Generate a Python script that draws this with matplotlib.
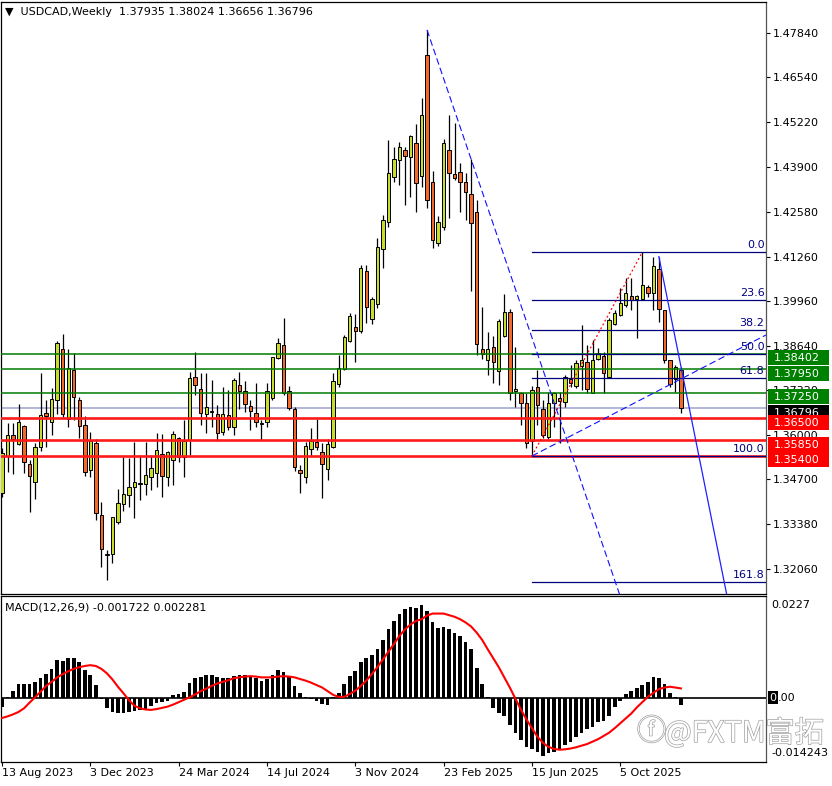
import matplotlib
matplotlib.use('Agg')
import matplotlib.pyplot as plt
import matplotlib.patches as mpatches
import matplotlib.transforms as mtrans
import matplotlib.patheffects as pe
import numpy as np
import pandas as pd

plt.rcParams['font.family'] = ['DejaVu Sans']

# ---------------- data ----------------
start_date = '2023-08-13'
opens = [1.3429, 1.3539, 1.3600, 1.3574, 1.3627, 1.3515, 1.3464, 1.3565, 1.3666, 1.3638,
         1.3704, 1.3853, 1.3648, 1.3792, 1.3704, 1.3629, 1.3498, 1.3577, 1.3366, 1.3249,
         1.3250, 1.3345, 1.3398, 1.3424, 1.3449, 1.3460, 1.3457, 1.3476, 1.3488, 1.3544,
         1.3476, 1.3527, 1.3593, 1.3537, 1.3586, 1.3771, 1.3735, 1.3663, 1.3670, 1.3662,
         1.3609, 1.3659, 1.3625, 1.3748, 1.3730, 1.3686, 1.3665, 1.3637, 1.3640, 1.3709,
         1.3827, 1.3866, 1.3730, 1.3677, 1.3497, 1.3478, 1.3559, 1.3581, 1.3552, 1.3501,
         1.3565, 1.3750, 1.3794, 1.3878, 1.3918, 1.3907, 1.4084, 1.3942, 1.3986, 1.4147,
         1.4229, 1.4361, 1.4410, 1.4440, 1.4418, 1.4461, 1.4364, 1.4719, 1.4346, 1.4167,
         1.4214, 1.4440, 1.4369, 1.4376, 1.4346, 1.4309, 1.4257, 1.3853, 1.3822, 1.3861,
         1.3790, 1.3892, 1.3962, 1.3731, 1.3725, 1.3695, 1.3584, 1.3742, 1.3677, 1.3596,
         1.3696, 1.3711, 1.3699, 1.3765, 1.3745, 1.3804, 1.3817, 1.3725, 1.3824, 1.3833,
         1.3773, 1.3928, 1.3954, 1.3984, 1.4010, 1.4002, 1.4000, 1.4036, 1.4018, 1.4089,
         1.3969, 1.3822, 1.3765, 1.37935]
highs = [1.3563, 1.3636, 1.3636, 1.3692, 1.3630, 1.3527, 1.3577, 1.3783, 1.3704, 1.3739,
         1.3878, 1.3898, 1.3853, 1.3841, 1.3714, 1.3657, 1.3611, 1.3588, 1.3405, 1.3262,
         1.3361, 1.3441, 1.3537, 1.3532, 1.3581, 1.3542, 1.3581, 1.3542, 1.3606, 1.3604,
         1.3554, 1.3613, 1.3596, 1.3645, 1.3787, 1.3844, 1.3783, 1.3783, 1.3763, 1.3689,
         1.3743, 1.3733, 1.3768, 1.3787, 1.3761, 1.3704, 1.3753, 1.3645, 1.3753, 1.3831,
         1.3886, 1.3944, 1.3745, 1.3682, 1.3513, 1.3581, 1.3622, 1.3647, 1.3577, 1.3588,
         1.3783, 1.3836, 1.3895, 1.3959, 1.3957, 1.4101, 1.4101, 1.4007, 1.4180, 1.4248,
         1.4469, 1.4449, 1.4464, 1.4449, 1.4484, 1.4516, 1.4592, 1.4793, 1.4378, 1.4245,
         1.4471, 1.4543, 1.4520, 1.4401, 1.4371, 1.4412, 1.4293, 1.3979, 1.3905, 1.3892,
         1.3941, 1.4016, 1.3971, 1.3859, 1.3728, 1.3724, 1.3744, 1.3792, 1.3704, 1.3728,
         1.3728, 1.3728, 1.3778, 1.3807, 1.3822, 1.3925, 1.3866, 1.3880, 1.3856, 1.3846,
         1.3944, 1.3969, 1.4033, 1.4062, 1.4062, 1.4013, 1.4139, 1.4042, 1.4126, 1.4126,
         1.3969, 1.3822, 1.3807, 1.38024]
lows = [1.3418, 1.3492, 1.3486, 1.3571, 1.3490, 1.3375, 1.3413, 1.3555, 1.3567, 1.3601,
        1.3663, 1.3655, 1.3625, 1.3645, 1.3591, 1.3480, 1.3478, 1.3351, 1.3213, 1.3174,
        1.3225, 1.3339, 1.3378, 1.3390, 1.3357, 1.3410, 1.3424, 1.3439, 1.3449, 1.3418,
        1.3452, 1.3454, 1.3522, 1.3476, 1.3542, 1.3719, 1.3630, 1.3606, 1.3625, 1.3584,
        1.3601, 1.3616, 1.3601, 1.3677, 1.3670, 1.3616, 1.3625, 1.3586, 1.3625, 1.3704,
        1.3824, 1.3719, 1.3675, 1.3496, 1.3431, 1.3461, 1.3542, 1.3557, 1.3416, 1.3469,
        1.3562, 1.3743, 1.3792, 1.3876, 1.3815, 1.3901, 1.3931, 1.3928, 1.3975, 1.4092,
        1.4214, 1.4346, 1.4337, 1.4278, 1.4300, 1.4258, 1.4332, 1.4268, 1.4150, 1.4157,
        1.4204, 1.4239, 1.4351, 1.4258, 1.4234, 1.4026, 1.3836, 1.3824, 1.3778, 1.3755,
        1.3748, 1.3890, 1.3704, 1.3682, 1.3630, 1.3562, 1.3539, 1.3630, 1.3591, 1.3588,
        1.3625, 1.3577, 1.3684, 1.3743, 1.3738, 1.3733, 1.3724, 1.3724, 1.3822, 1.3724,
        1.3773, 1.3925, 1.3951, 1.3979, 1.3969, 1.3886, 1.3998, 1.4008, 1.3969, 1.3934,
        1.3812, 1.3743, 1.3728, 1.36656]
closes = [1.3547, 1.3600, 1.3590, 1.3639, 1.3522, 1.3480, 1.3567, 1.3659, 1.3657, 1.3706,
          1.3873, 1.3662, 1.3797, 1.3712, 1.3628, 1.3493, 1.3584, 1.3371, 1.3265, 1.3251,
          1.3359, 1.3402, 1.3427, 1.3449, 1.3462, 1.3457, 1.3483, 1.3503, 1.3557, 1.3480,
          1.3552, 1.3603, 1.3537, 1.3584, 1.3770, 1.3748, 1.3665, 1.3684, 1.3673, 1.3606,
          1.3664, 1.3624, 1.3763, 1.3730, 1.3691, 1.3672, 1.3640, 1.3632, 1.3730, 1.3830,
          1.3873, 1.3725, 1.3680, 1.3506, 1.3489, 1.3569, 1.3584, 1.3565, 1.3516, 1.3574,
          1.3761, 1.3799, 1.3890, 1.3952, 1.3908, 1.4093, 1.3979, 1.4000, 1.4155, 1.4234,
          1.4371, 1.4412, 1.4448, 1.4422, 1.4481, 1.4342, 1.4543, 1.4293, 1.4175, 1.4229,
          1.4461, 1.4373, 1.4356, 1.4346, 1.4317, 1.4224, 1.3868, 1.3839, 1.3853, 1.3817,
          1.3937, 1.3962, 1.3725, 1.3735, 1.3694, 1.3578, 1.3733, 1.3689, 1.3601, 1.3694,
          1.3725, 1.3702, 1.3773, 1.3753, 1.3814, 1.3822, 1.3735, 1.3822, 1.3841, 1.3783,
          1.3939, 1.3959, 1.3989, 1.4020, 1.3998, 1.4010, 1.4042, 1.4020, 1.4098, 1.3971,
          1.3822, 1.3751, 1.3802, 1.36796]

macd_hist = [-0.0022, 0.0002, 0.0016, 0.0033, 0.0033, 0.0033, 0.0039, 0.0049, 0.0058, 0.0070,
             0.0093, 0.0090, 0.0098, 0.0098, 0.0089, 0.0068, 0.0056, 0.0031, -0.0002, -0.0025,
             -0.0034, -0.0037, -0.0037, -0.0034, -0.0032, -0.0030, -0.0029, -0.0021, -0.0014, -0.0010,
             -0.0008, 0.0007, 0.0010, 0.0015, 0.0035, 0.0049, 0.0052, 0.0055, 0.0055, 0.0050,
             0.0049, 0.0048, 0.0053, 0.0057, 0.0056, 0.0053, 0.0049, 0.0042, 0.0045, 0.0056,
             0.0067, 0.0062, 0.0050, 0.0030, 0.0012, 0.0002, -0.0004, -0.0008, -0.0016, -0.0019,
             0.0001, 0.0012, 0.0033, 0.0054, 0.0066, 0.0089, 0.0097, 0.0105, 0.0121, 0.0142,
             0.0168, 0.0189, 0.0206, 0.0217, 0.0224, 0.0220, 0.0227, 0.0214, 0.0187, 0.0171,
             0.0175, 0.0168, 0.0160, 0.0152, 0.0138, 0.0121, 0.0074, 0.0033, 0.0002, -0.0026,
             -0.0037, -0.0045, -0.0067, -0.0086, -0.0103, -0.0122, -0.0125, -0.0133, -0.014243, -0.0137,
             -0.0133, -0.0125, -0.0116, -0.0108, -0.0096, -0.0088, -0.0078, -0.0071, -0.0059, -0.0057,
             -0.0045, -0.0022, -0.0007, 0.0009, 0.0017, 0.0025, 0.0031, 0.0039, 0.0050, 0.0048,
             0.0033, 0.0012, 0.0001, -0.001722]
macd_signal = [-0.0050, -0.0046, -0.0041, -0.0035, -0.0026, -0.0012, 0.0001, 0.0015, 0.0029, 0.0039,
               0.0050, 0.0058, 0.0065, 0.0071, 0.0075, 0.0078, 0.0080, 0.0078, 0.0071, 0.0060,
               0.0045, 0.0027, 0.0011, -0.0006, -0.0020, -0.0026, -0.0029, -0.0030, -0.0028, -0.0025,
               -0.0022, -0.0017, -0.0011, -0.0005, 0.0001, 0.0008, 0.0016, 0.0022, 0.0029, 0.0035,
               0.0039, 0.0043, 0.0048, 0.0050, 0.0052, 0.0053, 0.0052, 0.0050, 0.0050, 0.0050,
               0.0052, 0.0053, 0.0052, 0.0050, 0.0046, 0.0042, 0.0037, 0.0031, 0.0025, 0.0016,
               0.0007, 0.0002, 0.0002, 0.0009, 0.0017, 0.0029, 0.0042, 0.0058, 0.0075, 0.0094,
               0.0113, 0.0132, 0.0152, 0.0168, 0.0180, 0.0189, 0.0193, 0.0202, 0.0207, 0.0207,
               0.0207, 0.0203, 0.0199, 0.0193, 0.0185, 0.0175, 0.0160, 0.0142, 0.0119, 0.0097,
               0.0075, 0.0050, 0.0025, -0.0002, -0.0029, -0.0053, -0.0075, -0.0096, -0.0111, -0.0121,
               -0.0126, -0.0128, -0.0127, -0.0125, -0.0122, -0.0118, -0.0114, -0.0108, -0.0102, -0.0094,
               -0.0086, -0.0075, -0.0063, -0.0051, -0.0039, -0.0024, -0.0011, 0.0002, 0.0012, 0.0021,
               0.0025, 0.0027, 0.0025, 0.002281]

price_ticks = [1.47840, 1.46540, 1.45220, 1.43900, 1.42580, 1.41260, 1.39960,
               1.38640, 1.37320, 1.36000, 1.34700, 1.33380, 1.32060]
green_levels = [1.38402, 1.37950, 1.37250]
red_levels = [1.36500, 1.35850, 1.35400]
last_price = 1.36796

fib_low_bar, fib_low = 96, 1.3539
fib_high_bar, fib_high = 116, 1.4139
fib_ratios = [0.0, 23.6, 38.2, 50.0, 61.8, 100.0, 161.8]

trend_dashed = [(77, 1.4793), (85, 1.4412)]
trend_support = [(96, 1.3539), (101, 1.3581)]
trend_solid = [(119, 1.4126), (123, 1.38024)]

date_tick_step = 16
macd_axis_labels = [0.0227, -0.014243]
title_text = "\u25BC  USDCAD,Weekly  1.37935 1.38024 1.36656 1.36796"
macd_title = "MACD(12,26,9) -0.001722 0.002281"

# ---------------- layout ----------------
W, H = 832, 786
fig = plt.figure(figsize=(W / 100, H / 100), dpi=100)
fig.patch.set_facecolor('white')

def frac_box(x0, y0, x1, y1):
    return [x0 / W, 1 - y1 / H, (x1 - x0) / W, (y1 - y0) / H]

ax = fig.add_axes(frac_box(1, 2, 766, 594))
ax2 = fig.add_axes(frac_box(1, 596, 766, 762), sharex=ax)

n = len(opens)
dates = pd.date_range(start_date, periods=n, freq='7D')
xs = np.arange(n)

bull_c = '#C8DC30'
bear_c = '#F26A2A'

# candles
bw = 0.62
for i in range(n):
    o, h, l, c = opens[i], highs[i], lows[i], closes[i]
    ax.plot([i, i], [l, h], color='black', lw=0.9, zorder=2, solid_capstyle='butt')
    bottom = min(o, c)
    height = abs(c - o)
    col = bull_c if c >= o else bear_c
    if height < 0.00015:
        ax.plot([i - bw / 2, i + bw / 2], [c, c], color='black', lw=1.0, zorder=3)
    else:
        ax.add_patch(mpatches.Rectangle((i - bw / 2, bottom), bw, height, facecolor=col,
                                        edgecolor='black', lw=0.7, zorder=3))

ymin, ymax = 1.31330, 1.48752
ax.set_xlim(-0.18, 138.41)
ax.set_ylim(ymin, ymax)
dp = (ymax - ymin) / 592.0

# horizontal levels
for lv in green_levels:
    ax.axhline(lv, color='#007A00', lw=1.1, zorder=4)
for lv in red_levels:
    ax.axhline(lv, color='#FF1A1A', lw=1.9, zorder=4)
ax.axhline(last_price, color='#ADB0D8', lw=1.3, zorder=1.5)

# fibonacci
xr = ax.get_xlim()[1]
for r in fib_ratios:
    lv = fib_high - r / 100.0 * (fib_high - fib_low)
    ax.plot([fib_low_bar, xr], [lv, lv], color='#00007F', lw=0.9, zorder=4.5)
    ax.text(0.998, lv + 2.5 * dp, '%.1f' % r, transform=mtrans.blended_transform_factory(ax.transAxes, ax.transData),
            ha='right', va='bottom', fontsize=8, color='#00007F', zorder=6)
ax.plot([fib_low_bar, fib_high_bar], [fib_low, fib_high], color='red', lw=0.9,
        ls=(0, (1.5, 2)), zorder=5)

# trend lines
def draw_trend(pts, **kw):
    (x0, y0), (x1, y1) = pts
    slope = (y1 - y0) / (x1 - x0)
    xe = xr
    ax.plot([x0, xe], [y0, y0 + slope * (xe - x0)], zorder=5, **kw)

draw_trend(trend_dashed, color='#1010FF', lw=0.8, ls=(0, (6, 3)))
draw_trend(trend_support, color='#1010FF', lw=0.8, ls=(0, (6, 3)))
draw_trend(trend_solid, color='#2020FF', lw=0.9)

# price axis
ax.yaxis.tick_right()
ax.set_yticks(price_ticks)
ax.set_yticklabels(['%.5f' % t for t in price_ticks])
ax.tick_params(axis='y', direction='out', length=3, width=0.8, pad=2, labelsize=8, colors='black')
ax.tick_params(axis='x', bottom=False, labelbottom=False)
for s in ax.spines.values():
    s.set_color('black')
    s.set_linewidth(0.9)
ax.spines['right'].set_color('#555555')

# price labels with boxes
blend = mtrans.blended_transform_factory(ax.transAxes, ax.transData)
box_items = [(lv, '#008000') for lv in green_levels] + [(last_price, 'black')] + \
            [(lv, '#FF0000') for lv in red_levels]
z = 10
for lv, colr in box_items:
    ax.add_patch(mpatches.Rectangle((1.0 + 1.5 / 765, lv - 11.5 * dp), 61 / 765, 15 * dp,
                                    transform=blend, facecolor=colr, edgecolor='none',
                                    clip_on=False, zorder=z))
    ax.text(1.0 + 8 / 765, lv - 4.5 * dp, '%.5f' % lv, transform=blend, ha='left', va='center',
            fontsize=8, color='white', clip_on=False, zorder=z + 0.5)
    z += 1

ax.text(4 / 765, 1 - 10 / 592, title_text, transform=ax.transAxes, ha='left', va='center',
        fontsize=8, color='black')

# ---------------- MACD ----------------
ax2.bar(xs, macd_hist, width=0.66, color='black', zorder=2)
ax2.plot(xs, macd_signal, color='#FF0000', lw=1.5, zorder=3)
ax2.axhline(0, color='black', lw=1.2, zorder=2.5)
m_lo, m_hi = -0.01582, 0.02502
ax2.set_ylim(m_lo, m_hi)
ax2.set_yticks([])
for s in ax2.spines.values():
    s.set_color('black')
    s.set_linewidth(0.9)
ax2.spines['right'].set_color('#555555')
ax2.text(4 / 765, 1 - 11 / 166, macd_title, transform=ax2.transAxes, ha='left', va='center',
         fontsize=8, color='black')

blend2 = mtrans.blended_transform_factory(ax2.transAxes, ax2.transData)
mdp = (m_hi - m_lo) / 166.0
ax2.text(1.0 + 5 / 765, macd_axis_labels[0], '%.4f' % macd_axis_labels[0], transform=blend2,
         ha='left', va='center', fontsize=8, clip_on=False)
ax2.text(1.0 + 5 / 765, macd_axis_labels[1] + 3 * mdp, '%.6f' % macd_axis_labels[1], transform=blend2,
         ha='left', va='center', fontsize=8, clip_on=False)
zero_lbl = ax2.text(1.0 + 3.5 / 765, 0, '0', transform=blend2, ha='left', va='center', fontsize=8,
                    color='white', clip_on=False, zorder=7,
                    bbox=dict(boxstyle='square,pad=0.12', fc='black', ec='none'))
ax2.annotate('.00', xy=(1.0, 0.5), xycoords=zero_lbl, xytext=(1.2, 0), textcoords='offset points',
             ha='left', va='center', fontsize=8, color='black', annotation_clip=False, zorder=7)

tick_idx = list(range(0, n, date_tick_step))
ax2.set_xticks(tick_idx)
ax2.set_xticklabels([f"{dates[i].day} {dates[i].strftime('%b %Y')}" for i in tick_idx], ha='left')
ax2.tick_params(axis='x', direction='out', length=3, width=0.8, pad=1.5, labelsize=8)

# watermark
wm_kw = dict(color='white', fontsize=21, va='center', ha='left',
             path_effects=[pe.withStroke(linewidth=1.0, foreground='#A0A0A0')], zorder=20)
fig.text(637 / W, 1 - 732 / H, '\u24D5', family=['Noto Sans CJK SC', 'DejaVu Sans'], **wm_kw)
fig.text(664 / W, 1 - 734 / H, '@FXTM\u5BCC\u62D3', family=['Noto Sans CJK SC', 'DejaVu Sans'], **wm_kw)

fig.savefig('out.png', dpi=100, facecolor='white')
